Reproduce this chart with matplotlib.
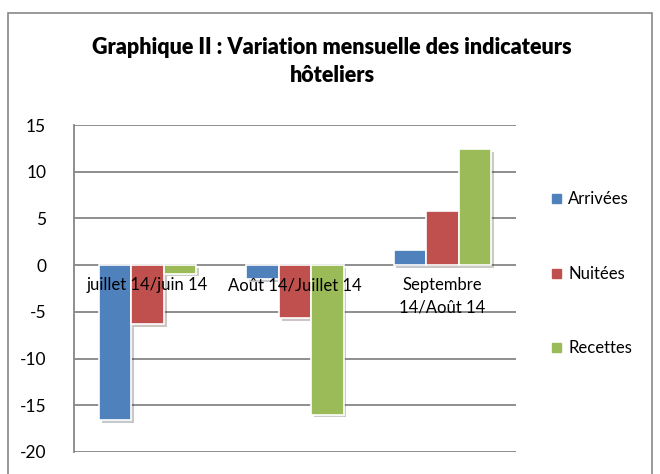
import matplotlib
matplotlib.use("Agg")
import matplotlib.pyplot as plt
import matplotlib.patheffects as pe
from matplotlib.patches import Rectangle
import numpy as np

categories = ["juillet 14/juin 14", "Août 14/Juillet 14", "Septembre\n14/Août 14"]
series_names = ["Arrivées", "Nuitées", "Recettes"]
arrivees = [-16.6, -1.5, 1.6]
nuitees = [-6.3, -5.7, 5.8]
recettes = [-0.9, -16.0, 12.4]
yticks = [15, 10, 5, 0, -5, -10, -15, -20]
colors = ["#4F81BD", "#C0504D", "#9BBB59"]

plt.rcParams['font.family'] = ['Lato', 'DejaVu Sans']

fig = plt.figure(figsize=(6.6, 4.74), dpi=100)
fig.patches.append(Rectangle((8/660, -0.1), (652-8)/660, 1 - 13/474 + 0.1,
                             transform=fig.transFigure, fill=False,
                             edgecolor="#888888", linewidth=1.2))

ax = fig.add_axes([74/660, 1-452/474, (516-74)/660, (452-125)/474])
x = np.arange(len(categories))
w = 0.22
for i, (vals, name, c) in enumerate(zip([arrivees, nuitees, recettes], series_names, colors)):
    ax.bar(x + (i-1)*w, vals, width=w, color=c, edgecolor="white", linewidth=1.2,
           label=name, zorder=3,
           path_effects=[pe.SimplePatchShadow(offset=(2, -2), alpha=0.25), pe.Normal()])

ax.set_xlim(-0.5, 2.5)
ax.set_ylim(-20, 15)
ax.set_yticks(yticks)
ax.set_yticklabels([str(t) for t in yticks], fontsize=12.5)
ax.tick_params(axis='y', length=0, pad=20)
ax.set_xticks([])
for t in yticks:
    ax.axhline(t, color="#868686", linewidth=1.3, zorder=1)
for s in ["top", "right", "bottom"]:
    ax.spines[s].set_visible(False)
ax.spines["left"].set_color("#868686")
ax.spines["left"].set_linewidth(1.3)

for i, cat in enumerate(categories):
    ax.text(x[i], -1.3, cat, ha='center', va='top', fontsize=12, zorder=5,
            linespacing=1.5)

fig.text(332/660, 1-48/474, "Graphique II : Variation mensuelle des indicateurs",
         ha='center', va='center', fontsize=15.5, fontweight='heavy')
fig.text(332/660, 1-76/474, "hôteliers", ha='center', va='center',
         fontsize=15.5, fontweight='heavy')

for name, c, yy in zip(series_names, colors, [199, 274, 348]):
    fig.patches.append(Rectangle((552/660, 1-(yy+4)/474), 9/660, 9/474,
                                 transform=fig.transFigure, color=c))
    fig.text(568/660, 1-yy/474, name, ha='left', va='center', fontsize=12)

fig.savefig("out.png", dpi=100)
